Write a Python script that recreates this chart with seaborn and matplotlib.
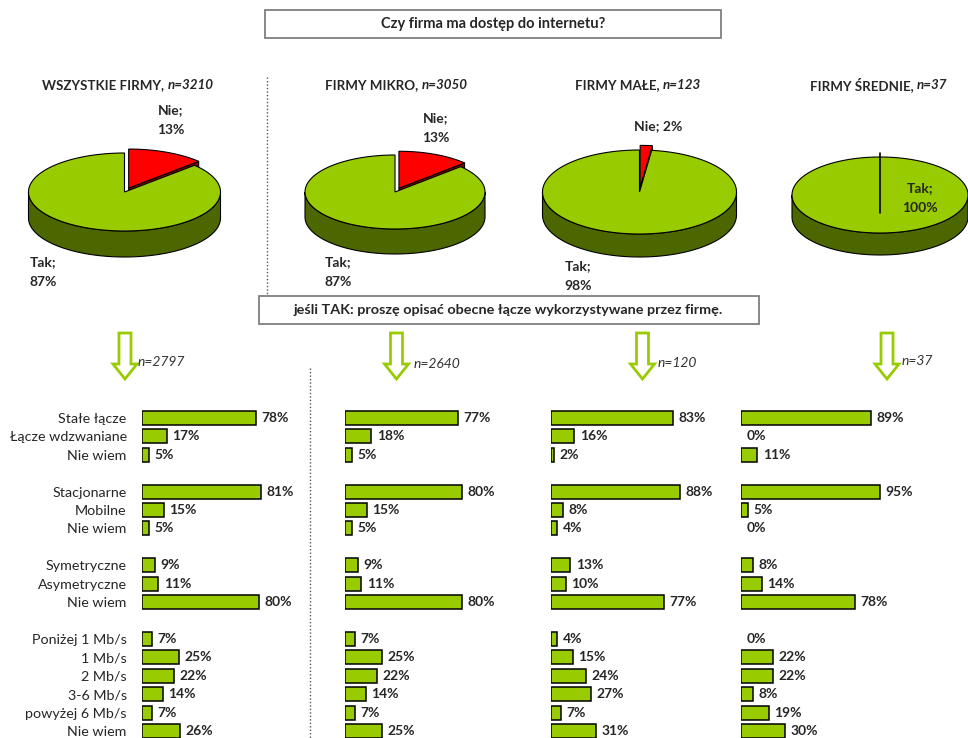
import numpy as np
import pandas as pd
import matplotlib
matplotlib.use("Agg")
import matplotlib.pyplot as plt
from matplotlib.patches import Polygon, Rectangle
import seaborn as sns

# ---------------- data ----------------
pie_titles = ["WSZYSTKIE FIRMY, ", "FIRMY MIKRO, ", "FIRMY MAŁE, ", "FIRMY ŚREDNIE, "]
pie_n = ["n=3210", "n=3050", "n=123", "n=37"]
pie_names = ["Nie", "Tak"]
pie_nie = [13, 13, 2, 0]
pie_tak = [87, 87, 98, 100]

bar_n = ["n=2797", "n=2640", "n=120", "n=37"]
categories = ["Stałe łącze", "Łącze wdzwaniane", "Nie wiem",
              "Stacjonarne", "Mobilne", "Nie wiem",
              "Symetryczne", "Asymetryczne", "Nie wiem",
              "Poniżej 1 Mb/s", "1 Mb/s", "2 Mb/s", "3-6 Mb/s", "powyżej 6 Mb/s", "Nie wiem"]
group_sizes = [3, 3, 3, 6]
vals_all = [78, 17, 5, 81, 15, 5, 9, 11, 80, 7, 25, 22, 14, 7, 26]
vals_mikro = [77, 18, 5, 80, 15, 5, 9, 11, 80, 7, 25, 22, 14, 7, 25]
vals_male = [83, 16, 2, 88, 8, 4, 13, 10, 77, 4, 15, 24, 27, 7, 31]
vals_srednie = [89, 0, 11, 95, 5, 0, 8, 14, 78, 0, 22, 22, 8, 19, 30]

title_q1 = "Czy firma ma dostęp do internetu?"
title_q2 = "jeśli TAK: proszę opisać obecne łącze wykorzystywane przez firmę."

GREEN = "#99CC00"
GREEN_SIDE = "#4C6600"
RED = "#FF0000"
RED_SIDE = "#8B0000"

sns.set_theme(style="white")
plt.rcParams["font.family"] = ["Lato", "DejaVu Sans"]

W, H = 968, 738
fig = plt.figure(figsize=(W / 100, H / 100), dpi=100)
fig.patch.set_facecolor("white")

# overlay axes in pixel coordinates
ov = fig.add_axes([0, 0, 1, 1])
ov.set_xlim(0, W)
ov.set_ylim(H, 0)
ov.axis("off")
ov.patch.set_alpha(0)


def pt(theta, x0, y0, rx, ry):
    return x0 + rx * np.sin(theta), y0 - ry * np.cos(theta)


def draw_pie3d(ax, cx, cy, rx, ry, depth, values, tops, sides, explode):
    total = float(sum(values))
    start = 0.0
    slices = []
    for v, ct, cs, e in zip(values, tops, sides, explode):
        a0 = 2 * np.pi * start / total
        start += v
        a1 = 2 * np.pi * start / total
        mid = (a0 + a1) / 2
        x0 = cx + e * rx * np.sin(mid)
        y0 = cy - e * ry * np.cos(mid)
        slices.append((a0, a1, x0, y0, ct, cs, v))

    # radial walls facing the viewer
    for a0, a1, x0, y0, ct, cs, v in slices:
        if v == 0 or v == total:
            continue
        for a, vis in ((a0, np.sin(a0) < -1e-9), (a1, np.sin(a1) > 1e-9)):
            if vis:
                px, py = pt(a, x0, y0, rx, ry)
                ax.add_patch(Polygon([(x0, y0), (px, py), (px, py + depth), (x0, y0 + depth)],
                                     closed=True, fc=cs, ec="black", lw=0.8, zorder=2))
    # outer walls (front half)
    for a0, a1, x0, y0, ct, cs, v in slices:
        lo, hi = max(a0, np.pi / 2), min(a1, 3 * np.pi / 2)
        if v == 0 or hi <= lo:
            continue
        th = np.linspace(lo, hi, 80)
        xs, ys = pt(th, x0, y0, rx, ry)
        poly = list(zip(xs, ys)) + list(zip(xs[::-1], ys[::-1] + depth))
        ax.add_patch(Polygon(poly, closed=True, fc=cs, ec="black", lw=0.8, zorder=3))
    # tops
    for a0, a1, x0, y0, ct, cs, v in slices:
        if v == 0:
            continue
        th = np.linspace(a0, a1, 200)
        xs, ys = pt(th, x0, y0, rx, ry)
        if v == total:
            poly = list(zip(xs, ys))
        else:
            poly = [(x0, y0)] + list(zip(xs, ys))
        ax.add_patch(Polygon(poly, closed=True, fc=ct, ec="black", lw=0.8, zorder=4))
    # zero slices show only as an edge line
    for a0, a1, x0, y0, ct, cs, v in slices:
        if v == 0:
            px, py = pt(a0, x0, y0, rx, ry)
            ax.plot([px, x0], [py, y0 + depth], color="black", lw=1.2, zorder=5)


# title boxes
ov.add_patch(Rectangle((265, 10), 456, 28, fc="white", ec="#7f7f7f", lw=1.3, zorder=1))
ov.text(493, 24, title_q1, ha="center", va="center", fontsize=10.5, fontweight="bold")
ov.add_patch(Rectangle((259, 296), 500, 28, fc="white", ec="#7f7f7f", lw=1.3, zorder=6))
ov.text(508, 310, title_q2, ha="center", va="center", fontsize=10.4, fontweight="bold", zorder=7)

# dotted separators
ov.plot([267, 267], [77, 296], ls=(0, (1, 1.5)), color="#555555", lw=1)
ov.plot([310, 310], [368, H], ls=(0, (1, 1.5)), color="#555555", lw=1)

# pies
pie_geo = [(124.5, 192, 96, 39, 26), (395, 192, 90, 37, 25),
           (639.5, 192, 97, 42, 23), (880, 195, 88, 38, 22)]
title_x = [42, 325, 575, 810]
nie_lab = [(171, 120, True), (436, 128, True), (658, 126, False), None]
tak_lab = [(43, 272), (338, 272), (578, 276), (920, 198)]

for i in range(4):
    cx, cy, rx, ry, d = pie_geo[i]
    draw_pie3d(ov, cx, cy, rx, ry, d, [pie_nie[i], pie_tak[i]],
               [RED, GREEN], [RED_SIDE, GREEN_SIDE], [0.11, 0.0])
    t1 = ov.text(title_x[i], 85, pie_titles[i], ha="left", va="center",
                 fontsize=9.6, fontweight="bold")
    ov.annotate(pie_n[i], xy=(1, 0.5), xycoords=t1, va="center", ha="left",
                fontsize=9.6, fontweight="bold", fontstyle="italic")
    if nie_lab[i] is not None:
        x, y, two = nie_lab[i]
        sep = ";\n" if two else "; "
        ov.text(x, y, f"{pie_names[0]}{sep}{pie_nie[i]}%", ha="center", va="center",
                multialignment="center", fontsize=10, fontweight="bold",
                linespacing=1.85, zorder=8)
    x, y = tak_lab[i]
    ov.text(x, y, f"{pie_names[1]};\n{pie_tak[i]}%", ha="center", va="center",
            multialignment="center", fontsize=10, fontweight="bold",
            linespacing=1.85, zorder=8)

# arrows and n labels
arrow_x = [125, 396.5, 642.5, 887]
n_xy = [(138, 362), (414, 364), (658, 363), (902, 361)]
for i, xc in enumerate(arrow_x):
    top, sb, tip, sw, hw = 333, 364, 379, 6, 12
    ov.add_patch(Polygon([(xc - sw, top), (xc + sw, top), (xc + sw, sb), (xc + hw, sb),
                          (xc, tip), (xc - hw, sb), (xc - sw, sb)], closed=True,
                         fc="white", ec=GREEN, lw=2, zorder=2))
    ov.text(n_xy[i][0], n_xy[i][1], bar_n[i], ha="left", va="center", fontsize=10,
            fontstyle="italic", color="#333333")

# ---------------- bars ----------------
rows = []
r = 0
for g in group_sizes:
    rows.extend(range(r, r + g))
    r += g + 1

row_px0 = 418.0
row_step = 18.41
px_per_pct = 1.465
panel_left = [142, 345, 551, 741]
panel_vals = [vals_all, vals_mikro, vals_male, vals_srednie]

ax_top = row_px0 - 0.5 * row_step
ax_h = (rows[-1] + 1) * row_step
for i, vals in enumerate(panel_vals):
    ax = fig.add_axes([panel_left[i] / W, (H - ax_top - ax_h) / H,
                       100 * px_per_pct / W, ax_h / H])
    df = pd.DataFrame({"row": rows, "value": vals})
    sns.barplot(data=df, x="value", y="row", orient="h", native_scale=True,
                width=0.76, color=GREEN, saturation=1, edgecolor="black",
                linewidth=1.1, errorbar=None, ax=ax)
    for p in ax.patches:
        if p.get_width() == 0:
            p.set_visible(False)
    ax.bar_label(ax.containers[0], labels=[f"{v}%" for v in vals], padding=4,
                 fontsize=10, fontweight="bold")
    ax.set_xlim(0, 100)
    ax.set_ylim(rows[-1] + 0.5, -0.5)
    ax.set_xlabel("")
    ax.set_ylabel("")
    ax.set_xticks([])
    sns.despine(ax=ax, left=True, bottom=True)
    ax.patch.set_alpha(0)
    if i == 0:
        ax.set_yticks(rows, categories)
        ax.tick_params(axis="y", length=0, pad=11, labelsize=10.3, labelcolor="#262626")
    else:
        ax.set_yticks([])

fig.savefig("out.png", dpi=100)
